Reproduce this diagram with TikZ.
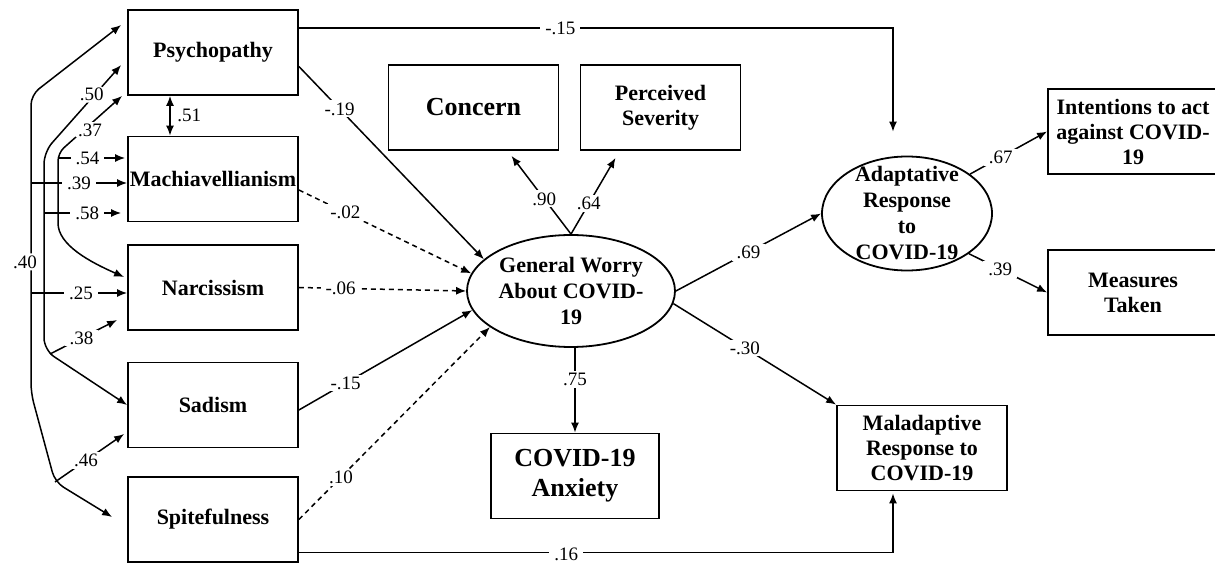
\documentclass[tikz,border=0pt]{standalone}
\usepackage{fontspec}
\setmainfont{Liberation Serif}
\usetikzlibrary{arrows.meta,shapes.geometric}
\tikzset{
	% Node styles for the path model: observed boxes and latent ovals
	obs node/.style={rectangle,draw,line width=0.9pt,inner xsep=0pt,inner ysep=2pt,
		minimum width=85pt,minimum height=42.5pt,align=center,
		font=\fontsize{11}{12.5}\selectfont\bfseries},
	big node/.style={obs node,font=\fontsize{13}{15}\selectfont\bfseries},
	latent node/.style={ellipse,draw,line width=0.9pt,inner sep=0pt},
	latent text/.style={align=center,font=\fontsize{11}{13}\selectfont\bfseries},
	coef/.style={fill=white,inner xsep=2.5pt,inner ysep=1pt,font=\fontsize{9.5}{11}\selectfont},
	nonsig path/.style={dash pattern=on 2.5pt off 2pt}
}

\begin{document}
\begin{tikzpicture}[x=0.5pt, y=-0.5pt, line width=0.75pt, >={Latex[length=5pt,width=4pt]}]

  \useasboundingbox (0,0) rectangle (1215,566);

  \node(psy) at (213, 52.5) [obs node]{Psychopathy};
  \node(mach) at (213, 179) [obs node]{Machiavellianism};
  \node(narc) at (213, 287.5) [obs node]{Narcissism};
  \node(sad) at (213, 405) [obs node]{Sadism};
  \node(spite) at (213, 519.5) [obs node]{Spitefulness};

  \node(concern) at (473.5, 107.5) [big node]{Concern};
  \node(severity) at (660.5, 107.5) [obs node, minimum width=80pt]{Perceived\\Severity};
  \node(worry) at (571, 291) [latent node, minimum width=104pt, minimum height=56pt,
    label={[latent text]center:General Worry\\About COVID-\\19}]{};
  \node(anx) at (575, 476) [big node, minimum width=84pt]{COVID-19\\Anxiety};

  \node(adapt) at (907, 213.5) [latent node, minimum width=85pt, minimum height=57pt,
    label={[latent text]center:Adaptative\\Response\\to\\COVID-19}]{};
  \node(maladapt) at (922, 448) [obs node]{Maladaptive\\Response to\\COVID-19};
  \node(intent) at (1133, 131.5) [obs node]{Intentions to act\\against COVID-\\19};
  \node(measures) at (1133, 292.5) [obs node]{Measures\\Taken};

  %% paths from the traits
  \draw[->] ([yshift=12.25pt]psy.east) -| node[coef, pos=0.22]{-.15} ([xshift=-7pt,yshift=12pt]adapt.north);
  \draw[->] ([yshift=-16.5pt]spite.east) -| node[coef, pos=0.225, yshift=-1pt]{.16} ([xshift=-14.5pt,yshift=-1pt]maladapt.south);

  \path[->] ([yshift=-7pt]psy.east) edge node[coef, pos=0.22]{-.19} (worry.160);
  \path[->, nonsig path] ([yshift=-5.5pt]mach.east) edge node[coef, pos=0.27]{-.02} (worry.170);
  \path[->, nonsig path] (narc.east) edge node[coef, pos=0.25]{-.06} (worry.west);
  \path[->] ([yshift=-2.5pt]sad.east) edge node[coef, pos=0.27]{-.15} (worry.191);
  \path[->, nonsig path] (spite.east) edge node[coef, pos=0.22]{.10} (worry.204);

  %% loadings and outcomes
  \path[->] (worry.north) edge node[coef, pos=0.45]{.90} ([xshift=19pt,yshift=-2.5pt]concern.south);
  \path[->] (worry.north) edge node[coef, pos=0.4]{.64} ([xshift=-22.5pt,yshift=-3.5pt]severity.south);
  \path[->] (worry.south -| anx.north) edge node[coef, pos=0.37]{.75} (anx.north);
  \path[->] (worry.east) edge node[coef]{.69} (adapt.west);
  \path[->] (worry.-7) edge node[coef, pos=0.44]{-.30} (maladapt.north west);
  \path[->] (adapt.32) edge node[coef, pos=0.4]{.67} (intent.west);
  \path[->] (adapt.-33) edge node[coef, pos=0.4]{.39} (measures.west);

  %% correlations among the traits
  \path[<->] ([xshift=-21.5pt]psy.south) edge node[right, font=\fontsize{9.5}{11}\selectfont]{.51} ([xshift=-21.5pt]mach.north);

  \coordinate (j40top) at (31, 95);
  \coordinate (j40bot) at (31, 393);
  \coordinate (j46) at (55, 482);
  \coordinate (j50top) at (44, 152);
  \coordinate (j50bot) at (44, 350);
  \coordinate (j38) at (50, 354);
  \coordinate (j37top) at (58, 153);
  \coordinate (j37bot) at (58, 215);
  \coordinate (j54) at (58, 158);
  \coordinate (j39) at (31, 183);
  \coordinate (j58) at (44, 213);
  \coordinate (j25) at (31, 293);

  \draw[<->, rounded corners=5pt] ([xshift=-3pt,yshift=13.75pt]psy.west) -- (j40top)
    -- node[coef, pos=0.56, xshift=-3pt]{.40} (j40bot) -- (j46) -- ([xshift=-7.5pt,yshift=1.25pt]spite.west);
  \draw[<->, rounded corners=6pt] ([xshift=-3pt,yshift=-6.25pt]psy.west)
    -- node[coef, pos=0.38, yshift=2pt]{.50} (j50top) -- (j50bot) -- (sad.west);
  \draw[<->, rounded corners=4pt] ([xshift=-2.5pt]psy.south west)
    -- node[coef, pos=0.5, yshift=-3pt]{.37} (j37top) -- (j37bot)
    .. controls (58,245) and (90,262) .. ([xshift=-1.5pt,yshift=5.25pt]narc.west);

  \path[->] (j54) edge node[coef, pos=0.44]{.54} ([xshift=-1pt,yshift=10.5pt]mach.west);
  \path[->] (j39) edge node[coef, pos=0.5]{.39} ([yshift=-2pt]mach.west);
  \path[->] (j58) edge node[coef, pos=0.56]{.58} ([xshift=-3pt,yshift=-17pt]mach.west);
  \path[->] (j25) edge node[coef, pos=0.52]{.25} ([yshift=-2.75pt]narc.west);
  \path[->] (j38) edge node[coef, pos=0.47]{.38} ([xshift=-5pt,yshift=-16.25pt]narc.west);
  \path[->] (j46) edge node[coef, pos=0.45]{.46} ([xshift=-1.5pt,yshift=-14.5pt]sad.west);

\end{tikzpicture}
\end{document}
